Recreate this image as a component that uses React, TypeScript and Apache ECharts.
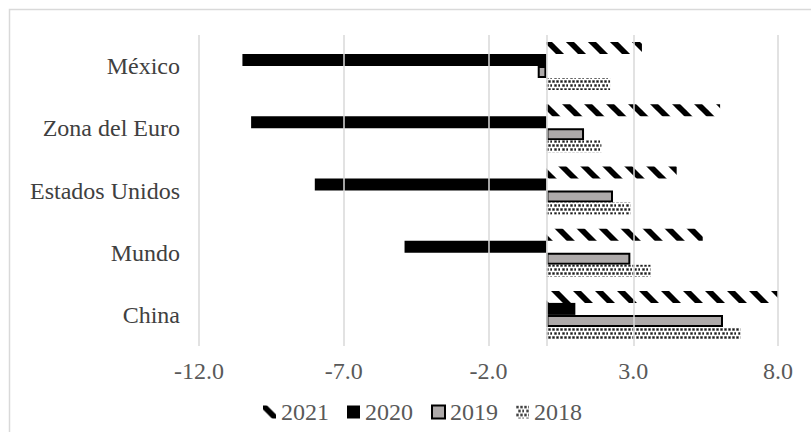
import React, { useEffect, useRef } from "react";
import * as echarts from "echarts";

const categories = ["México", "Zona del Euro", "Estados Unidos", "Mundo", "China"];
const seriesNames = ["2021", "2020", "2019", "2018"];
const values2021 = [3.3, 6.0, 4.5, 5.4, 8.2];
const values2020 = [-10.5, -10.2, -8.0, -4.9, 1.0];
const values2019 = [-0.3, 1.3, 2.3, 2.9, 6.1];
const values2018 = [2.2, 1.9, 2.9, 3.6, 6.7];
const gridTicks = [-12, -7, -2, 3, 8];

const FONT = "Liberation Serif";

function makeHatch() {
  const s = 22;
  const c = document.createElement("canvas");
  c.width = s;
  c.height = s;
  const ctx = c.getContext("2d")!;
  ctx.fillStyle = "#ffffff";
  ctx.fillRect(0, 0, s, s);
  ctx.strokeStyle = "#000000";
  ctx.lineWidth = 5.8;
  for (const o of [-s, 0, s]) {
    ctx.beginPath();
    ctx.moveTo(o - 2, -2);
    ctx.lineTo(o + s + 2, s + 2);
    ctx.stroke();
  }
  return { image: c, repeat: "repeat", imageWidth: s, imageHeight: s };
}

function makeDots() {
  const s = 8;
  const c = document.createElement("canvas");
  c.width = s;
  c.height = s;
  const ctx = c.getContext("2d")!;
  ctx.fillStyle = "#ffffff";
  ctx.fillRect(0, 0, s, s);
  const pts = [
    [0, 0],
    [4, 0],
    [2, 4],
    [6, 4],
  ];
  ctx.fillStyle = "#b0b0b0";
  for (const [x, y] of pts) ctx.fillRect(x, y, 3, 3);
  ctx.fillStyle = "#1a1a1a";
  for (const [x, y] of pts) ctx.fillRect(x + 0.5, y + 0.5, 2, 2);
  return { image: c, repeat: "repeat", imageWidth: s, imageHeight: s };
}

export default function App() {
  const ref = useRef<HTMLDivElement>(null);
  useEffect(() => {
    if (!ref.current) return;
    const chart = echarts.init(ref.current, null, { renderer: "svg" });
    const hatch = makeHatch();
    const dots = makeDots();
    const barBase = {
      type: "bar",
      barWidth: 12,
      barGap: "0%",
      z: 2,
    };
    chart.setOption({
      animation: false,
      backgroundColor: "#ffffff",
      textStyle: { fontFamily: FONT },
      grid: { left: 199, right: 33, top: 35, bottom: 86, containLabel: false },
      legend: {
        left: 258,
        top: 395,
        itemWidth: 13,
        itemHeight: 13,
        itemGap: 18,
        icon: "rect",
        data: seriesNames,
        textStyle: { fontFamily: FONT, fontSize: 24, color: "#595959" },
      },
      xAxis: {
        type: "value",
        min: -12,
        max: 8,
        interval: 1,
        axisLine: { show: false },
        axisTick: { show: false },
        splitLine: { show: false },
        axisLabel: {
          margin: 13,
          fontFamily: FONT,
          fontSize: 24,
          color: "#595959",
          formatter: (v: number) =>
            gridTicks.includes(Math.round(v)) && Math.abs(v - Math.round(v)) < 1e-9 ? v.toFixed(1) : "",
        },
      },
      yAxis: {
        type: "category",
        inverse: true,
        data: categories,
        axisLine: { show: false },
        axisTick: { show: false },
        splitLine: { show: false },
        axisLabel: { margin: 19, fontFamily: FONT, fontSize: 24, color: "#404040" },
      },
      graphic: [
        {
          type: "rect",
          shape: { x: 9.5, y: 9.5, width: 830, height: 450 },
          style: { fill: "none", stroke: "#d9d9d9", lineWidth: 1.5 },
          silent: true,
        },
      ],
      series: [
        {
          type: "line",
          data: [],
          z: 0,
          silent: true,
          markLine: {
            silent: true,
            symbol: "none",
            label: { show: false },
            lineStyle: { color: "#d9d9d9", width: 1.5, type: "solid" },
            data: gridTicks.map((v) => ({ xAxis: v })),
          },
        },
        { ...barBase, name: "2021", data: values2021, itemStyle: { color: hatch } },
        { ...barBase, name: "2020", data: values2020, itemStyle: { color: "#000000" } },
        {
          ...barBase,
          name: "2019",
          data: values2019,
          itemStyle: { color: "#aeaaaa", borderColor: "#000000", borderWidth: 2 },
        },
        {
          ...barBase,
          name: "2018",
          data: values2018,
          itemStyle: { color: dots },
          markLine: {
            silent: true,
            symbol: "none",
            label: { show: false },
            lineStyle: { color: "#d9d9d9", width: 1.5, type: "solid" },
            data: [{ xAxis: 0 }],
          },
        },
      ],
    });
    return () => chart.dispose();
  }, []);
  return (
    <div
      ref={ref}
      style={{ position: "fixed", left: 0, top: 0, width: 811, height: 432, background: "#fff" }}
    />
  );
}
